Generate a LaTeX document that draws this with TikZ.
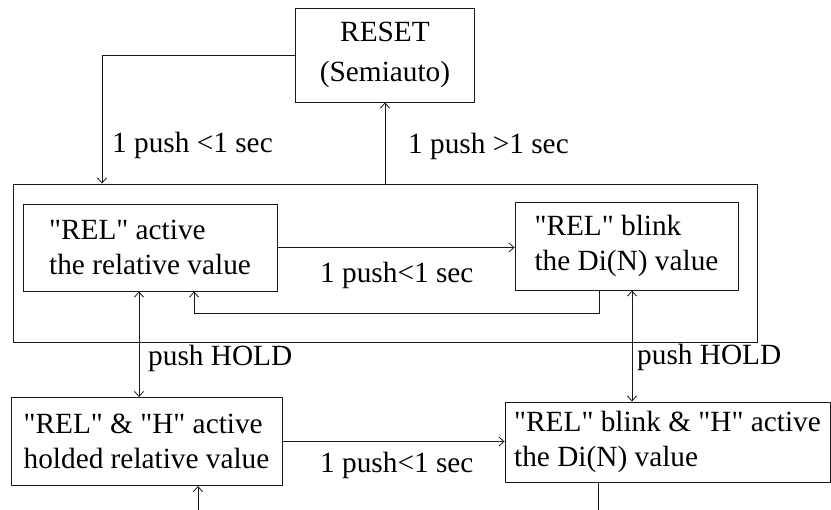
\documentclass[tikz,border=0pt]{standalone}
\usepackage{fontspec}
\setmainfont{Liberation Serif}[Ligatures=TeXOff]
\usetikzlibrary{arrows.meta}
\begin{document}
\begin{tikzpicture}[x=1pt,y=1pt,
  ln/.style={draw=black!90,line width=0.9pt},
  box/.style={ln,rectangle,inner sep=0pt,align=left,
    font=\fontsize{29.3}{35}\selectfont},
  arr/.style={ln,-{Straight Barb[length=5pt,width=9pt,line width=0.8pt]}},
  darr/.style={ln,{Straight Barb[length=5pt,width=9pt,line width=0.8pt]}-{Straight Barb[length=5pt,width=9pt,line width=0.8pt]}},
  lbl/.style={inner sep=0pt,anchor=base west,font=\fontsize{29.3}{35}\selectfont}]
\useasboundingbox (0,0) rectangle (831,-510);
\node[box,align=center,font=\fontsize{29.3}{40}\selectfont,minimum width=179pt,minimum height=94pt] (reset) at (385,-55) {RESET\\(Semiauto)};
\node[box,minimum width=744pt,minimum height=158pt] (outer) at (385,-263) {};
\node[box,minimum width=254pt,minimum height=87pt] (relA) at (150,-247.5) {"REL" active\\the relative value};
\node[box,minimum width=223pt,minimum height=88pt] (relB) at (626.5,-246) {"REL" blink\\the Di(N) value};
\node[box,minimum width=271pt,minimum height=88pt] (holdA) at (146.5,-441.5) {"REL" \& "H" active\\holded relative value};
\node[box,minimum width=325pt,minimum height=80pt] (holdB) at (667.5,-442) {"REL" blink \& "H" active\\the Di(N) value};
\coordinate (inA) at (198,-510);
\coordinate (outB) at (598,-510);
% connectors
\draw[arr] (reset.west) -| ([xshift=-283pt]outer.north);
\draw[arr] (outer.north) -- (reset.south);
\draw[arr] (relA.east) -- (relA.east -| relB.west);
\draw[arr] ([xshift=-27.5pt]relB.south) -- ++(0,-23) -| ([xshift=44pt]relA.south);
\draw[darr] ([xshift=-11pt]relA.south) -- ([xshift=-11pt]relA.south |- holdA.north);
\draw[darr] ([xshift=5.5pt]relB.south) -- ([xshift=5.5pt]relB.south |- holdB.north);
\draw[arr] (holdA.east) -- (holdA.east -| holdB.west);
\draw[arr] (inA) -- (inA |- holdA.south);
\draw[ln] (outB |- holdB.south) -- (outB);
% labels
\node[lbl] (l1) at (112,-153) {1 push <1 sec};
\node[lbl] (l2) at (408,-154) {1 push >1 sec};
\node[lbl] (l3) at (320,-283) {1 push<1 sec};
\node[lbl] (l4) at (148,-366) {push HOLD};
\node[lbl] (l5) at (637,-365) {push HOLD};
\node[lbl] (l6) at (320,-473) {1 push<1 sec};
\end{tikzpicture}
\end{document}
